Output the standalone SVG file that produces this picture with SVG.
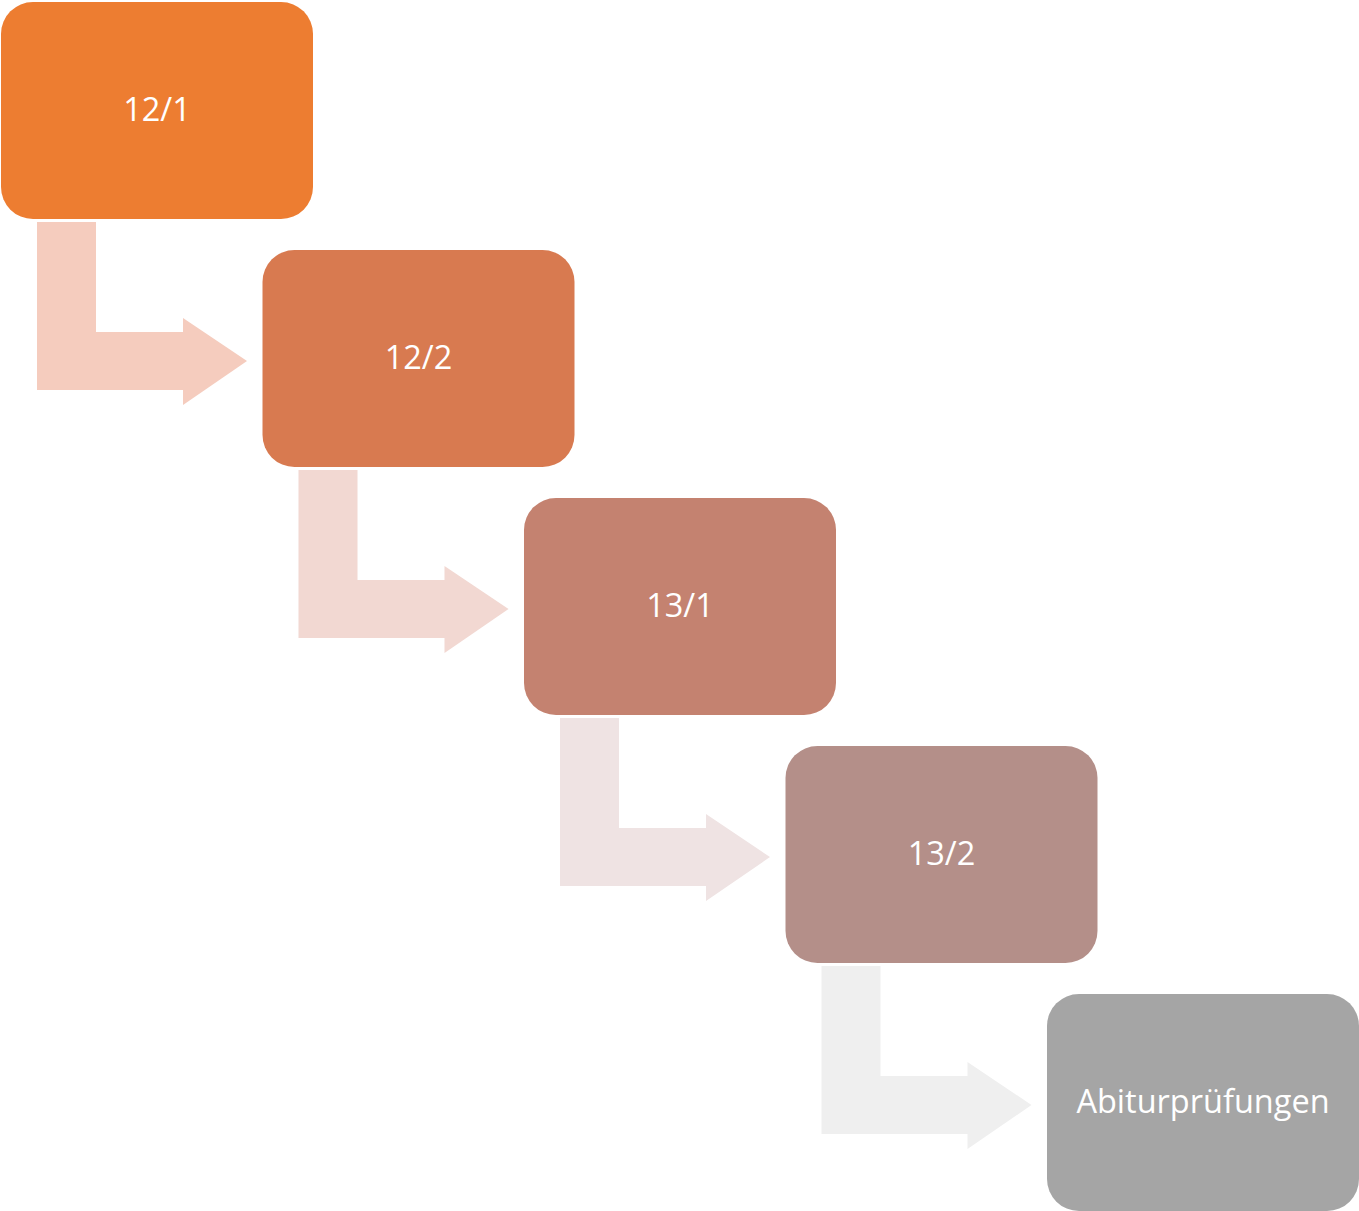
<svg xmlns="http://www.w3.org/2000/svg" width="1359" height="1211" viewBox="0 0 1359 1211">
<style>
.lbl{font-family:"Open Sans","Liberation Sans",sans-serif;font-size:32.5px;fill:#ffffff;text-anchor:middle;dominant-baseline:central}
</style>
<defs>
<path id="bent" d="M0,0 H59 V110 H146 V96 L210,139 L146,183 V168 H0 Z"/>
</defs>
<rect width="1359" height="1211" fill="#ffffff"/>
<g id="connectors">
<use href="#bent" x="37" y="222" fill="#F5CCBE"/>
<use href="#bent" x="298.5" y="470" fill="#F2D8D2"/>
<use href="#bent" x="560" y="718" fill="#EFE3E3"/>
<use href="#bent" x="821.5" y="966" fill="#EFEFEF"/>
</g>
<g id="n1"><rect x="1" y="2" width="312" height="217" rx="32" fill="#ED7D31"/><text class="lbl" x="157" y="108">12/1</text></g>
<g id="n2"><rect x="262.5" y="250" width="312" height="217" rx="32" fill="#D87A50"/><text class="lbl" x="418.5" y="356">12/2</text></g>
<g id="n3"><rect x="524" y="498" width="312" height="217" rx="32" fill="#C48270"/><text class="lbl" x="680" y="604">13/1</text></g>
<g id="n4"><rect x="785.5" y="746" width="312" height="217" rx="32" fill="#B48F89"/><text class="lbl" x="941.5" y="852">13/2</text></g>
<g id="n5"><rect x="1047" y="994" width="312" height="217" rx="32" fill="#A5A5A5"/><text class="lbl" x="1203" y="1100">Abiturprüfungen</text></g>
</svg>
